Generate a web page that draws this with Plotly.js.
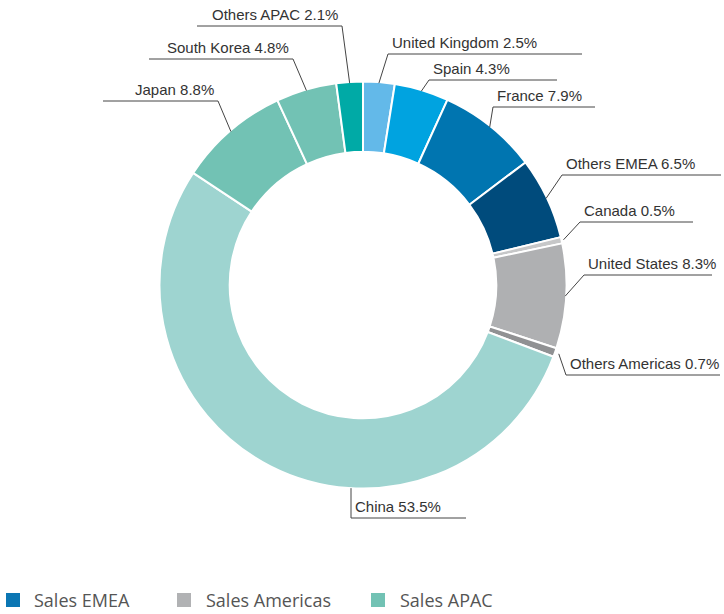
<!DOCTYPE html>
<html>
<head>
<meta charset="utf-8">
<script src="https://cdn.plot.ly/plotly-3.0.1.min.js"></script>
<style>
html,body{margin:0;padding:0;background:#fff}
#chart{width:724px;height:614px}
</style>
</head>
<body>
<div id="chart"></div>
<script>
// ---- data ----
var countries = ["United Kingdom", "Spain", "France", "Others EMEA", "Canada", "United States", "Others Americas", "China", "Japan", "South Korea", "Others APAC"];
var shares = [2.5, 4.3, 7.9, 6.5, 0.5, 8.3, 0.7, 53.5, 8.8, 4.8, 2.1];
var regions = ["Sales EMEA", "Sales Americas", "Sales APAC"];

// ---- styles ----
var sliceColors = ["#63b9e9", "#00a3e0", "#0075b0", "#004b7c", "#c6c7c8", "#afb0b2", "#909193", "#9ed4d0", "#72c2b4", "#72c2b4", "#00aaa6"];
var regionColors = ["#0b76b3", "#b1b2b4", "#72c2b4"];

// label placement (pixels): [lineStartX, lineEndX, lineY, side, leaderRadiusOffset, vertical]
var labelLayout = [
  [388, 582, 54, "r", -1, false],
  [429, 557, 80, "r", -1, false],
  [493, 595, 107, "r", -1, false],
  [562, 721, 175, "r", -1, false],
  [580, 693, 222, "r", 2, false],
  [584, 712, 275, "r", -1, false],
  [566, 720, 375, "r", 4, false],
  [351, 466, 518, "r", 0, true],
  [103, 218, 101, "l", -1, false],
  [149, 293, 59, "l", -1, false],
  [197, 342, 26, "l", -1, false]
];
var legendLayout = [[6, 32], [177, 204], [371, 398]];

var W = 724, H = 614;
var cx = 363, cy = 285, R = 203.5;
function px(x) { return x / W; }
function py(y) { return 1 - y / H; }

var labelFont = {family: "Liberation Sans, Arial, sans-serif", size: 15, color: "#333333"};
var legendFont = {family: "Open Sans, sans-serif", size: 18, color: "#555555"};

var total = shares.reduce(function (a, b) { return a + b; }, 0);
var shapes = [], annotations = [];
var cum = 0;
shares.forEach(function (v, i) {
  var mid = (cum + v / 2) / total * 2 * Math.PI;
  cum += v;
  var L = labelLayout[i];
  var r = R + L[4];
  var jx = L[3] === "r" ? L[0] : L[1];
  var ax, ay;
  if (L[5]) {
    ax = jx; ay = cy + Math.sqrt(R * R - (jx - cx) * (jx - cx));
  } else {
    ax = cx + r * Math.sin(mid); ay = cy - r * Math.cos(mid);
  }
  var lineStyle = {color: "#444444", width: 1};
  shapes.push({type: "line", xref: "paper", yref: "paper", x0: px(ax), y0: py(ay), x1: px(jx), y1: py(L[2]), line: lineStyle});
  shapes.push({type: "line", xref: "paper", yref: "paper", x0: px(L[0]), y0: py(L[2]), x1: px(L[1]), y1: py(L[2]), line: lineStyle});
  annotations.push({
    xref: "paper", yref: "paper", showarrow: false,
    x: L[3] === "r" ? px(L[0] + 2) : px(L[1] - 2),
    xanchor: L[3] === "r" ? "left" : "right",
    align: L[3] === "r" ? "left" : "right",
    y: py(L[2] - 1), yanchor: "bottom",
    text: countries[i] + " " + v.toFixed(1) + "%",
    font: labelFont
  });
});

regions.forEach(function (name, i) {
  var g = legendLayout[i];
  shapes.push({type: "rect", xref: "paper", yref: "paper", x0: px(g[0]), x1: px(g[0] + 14), y0: py(593), y1: py(607), fillcolor: regionColors[i], line: {width: 0}});
  annotations.push({xref: "paper", yref: "paper", showarrow: false, x: px(g[1]), xanchor: "left", align: "left", y: py(600), yanchor: "middle", text: name, font: legendFont});
});

var trace = {
  type: "pie",
  labels: countries,
  values: shares,
  sort: false,
  direction: "clockwise",
  rotation: 0,
  hole: 0.655,
  textinfo: "none",
  marker: {colors: sliceColors, line: {color: "#ffffff", width: 2}},
  domain: {x: [px(cx - R), px(cx + R)], y: [py(cy + R), py(cy - R)]},
  showlegend: false
};

var layout = {
  width: W, height: H,
  margin: {l: 0, r: 0, t: 0, b: 0},
  paper_bgcolor: "#ffffff",
  showlegend: false,
  shapes: shapes,
  annotations: annotations
};

Plotly.newPlot("chart", [trace], layout, {displayModeBar: false, staticPlot: true});
</script>
</body>
</html>
